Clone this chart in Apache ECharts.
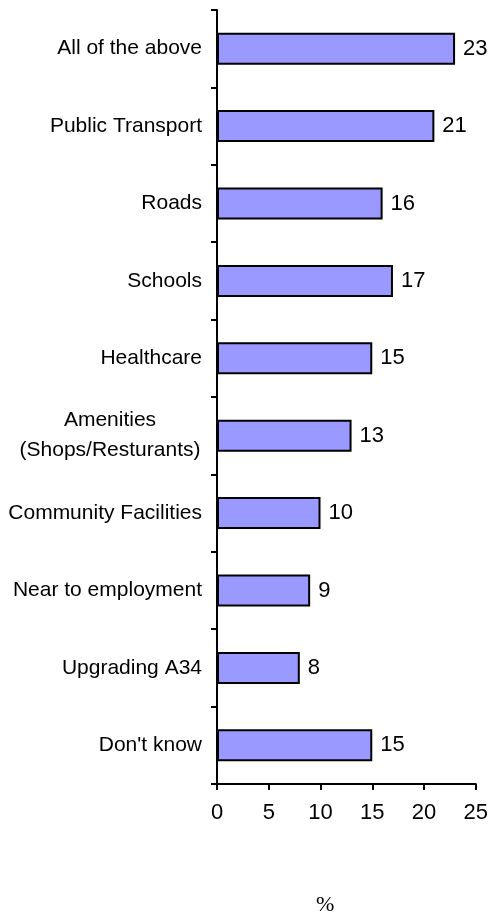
<!DOCTYPE html>
<html>
<head>
<meta charset="utf-8">
<script src="https://cdn.jsdelivr.net/npm/echarts@6/dist/echarts.min.js"></script>
<style>
  html, body { margin: 0; padding: 0; background: #ffffff; }
  #chart { width: 491px; height: 919px; }
</style>
</head>
<body>
<div id="chart"></div>
<script>
// Categories listed top to bottom
const categories = [
  'All of the above',
  'Public Transport',
  'Roads',
  'Schools',
  'Healthcare',
  'Amenities\n(Shops/Resturants)',
  'Community Facilities',
  'Near to employment',
  'Upgrading A34',
  "Don't know"
];
const values = [23, 21, 16, 17, 15, 13, 10, 9, 8, 15];
const xTicks = [0, 5, 10, 15, 20, 25];
const unitLabel = '%';

const font = 'Liberation Sans, Arial, sans-serif';
const fs = 21;      // category labels
const fsNum = 22;   // numbers (tick and value labels)

const chart = echarts.init(document.getElementById('chart'), null, { renderer: 'canvas' });

chart.setOption({
  backgroundColor: '#ffffff',
  animation: false,
  grid: { left: 217, right: 14, top: 10, bottom: 135, containLabel: false },
  xAxis: {
    type: 'value',
    min: xTicks[0],
    max: xTicks[xTicks.length - 1],
    interval: 5,
    axisLine: { show: true, lineStyle: { color: '#000', width: 2 } },
    axisTick: { show: true, length: 6, lineStyle: { color: '#000', width: 2 } },
    axisLabel: { color: '#000', fontSize: fsNum, fontFamily: font, margin: 18 },
    splitLine: { show: false }
  },
  yAxis: {
    type: 'category',
    inverse: true,
    data: categories,
    axisLine: { show: true, lineStyle: { color: '#000', width: 2 } },
    axisTick: { show: true, length: 6, alignWithLabel: false, lineStyle: { color: '#000', width: 2 } },
    axisLabel: {
      color: '#000',
      fontSize: fs,
      fontFamily: font,
      margin: 15,
      lineHeight: 30,
      formatter: function (v) {
        if (v.indexOf('\n') >= 0) {
          return v.split('\n').map(function (s) { return '{c|' + s + '}'; }).join('\n');
        }
        return v;
      },
      rich: {
        c: { width: 184, align: 'center', fontSize: fs, fontFamily: font, color: '#000', lineHeight: 30 }
      }
    }
  },
  series: [{
    type: 'bar',
    data: values,
    barWidth: 32,
    itemStyle: { color: '#9999ff', borderColor: '#000', borderWidth: 2 },
    label: {
      show: true,
      position: 'right',
      distance: 8,
      color: '#000',
      fontSize: fsNum,
      fontFamily: font
    }
  }],
  graphic: [{
    type: 'text',
    left: 316,
    top: 894,
    style: { text: unitLabel, font: '22px "Liberation Serif", "Times New Roman", serif', fill: '#000' }
  }]
});
</script>
</body>
</html>
